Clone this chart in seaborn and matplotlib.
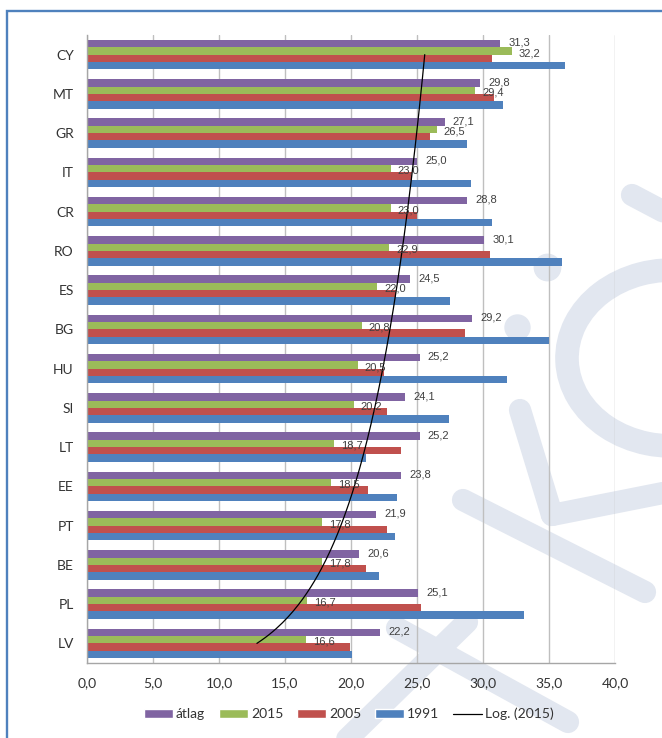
import numpy as np
import pandas as pd
import matplotlib
matplotlib.use("Agg")
import matplotlib.pyplot as plt
from matplotlib.lines import Line2D
from matplotlib.patches import Patch, Rectangle, Arc
import seaborn as sns

# --- data ---
countries = ["CY", "MT", "GR", "IT", "CR", "RO", "ES", "BG",
             "HU", "SI", "LT", "EE", "PT", "BE", "PL", "LV"]
atlag = [31.3, 29.8, 27.1, 25.0, 28.8, 30.1, 24.5, 29.2,
         25.2, 24.1, 25.2, 23.8, 21.9, 20.6, 25.1, 22.2]
y2015 = [32.2, 29.4, 26.5, 23.0, 23.0, 22.9, 22.0, 20.8,
         20.5, 20.2, 18.7, 18.5, 17.8, 17.8, 16.7, 16.6]
y2005 = [30.7, 30.8, 26.0, 24.6, 25.0, 30.5, 23.4, 28.6,
         22.5, 22.7, 23.8, 21.3, 22.7, 21.1, 25.3, 19.9]
y1991 = [36.2, 31.5, 28.8, 29.1, 30.7, 36.0, 27.5, 35.0,
         31.8, 27.4, 21.1, 23.5, 23.3, 22.1, 33.1, 20.1]
series = ["átlag", "2015", "2005", "1991"]
colors = ["#8064A2", "#9BBB59", "#C0504D", "#4F81BD"]
x_ticks = [0, 5, 10, 15, 20, 25, 30, 35, 40]

df = pd.DataFrame({
    "country": countries * 4,
    "series": np.repeat(series, len(countries)),
    "value": atlag + y2015 + y2005 + y1991,
})

sns.set_style("white")
plt.rcParams["font.family"] = ["Lato", "DejaVu Sans"]

W, H = 662, 738
fig = plt.figure(figsize=(W / 100, H / 100), dpi=100)


def fx(x):
    return x / W


def fy(y):
    return 1 - y / H


# --- faint background watermark ---
wm = "#E2E7F0"
strokes = [((463, 500), (645, 592)), ((397, 628), (568, 722)),
           ((467, 622), (338, 748)), ((520, 410), (552, 515)),
           ((552, 515), (668, 492)), ((632, 195), (668, 214))]
for (x0, y0), (x1, y1) in strokes:
    fig.add_artist(Line2D([fx(x0), fx(x1)], [fy(y0), fy(y1)],
                          transform=fig.transFigure, color=wm, lw=16,
                          solid_capstyle="round", zorder=-1))
for cx, cy, ms in [(547, 267, 19), (517, 327, 18)]:
    fig.add_artist(Line2D([fx(cx)], [fy(cy)], transform=fig.transFigure,
                          marker="o", ms=ms, color=wm, lw=0, zorder=-1))
fig.add_artist(Arc((fx(672), fy(358)), 210 / W, 176 / H, theta1=80, theta2=285,
                   transform=fig.transFigure, color=wm, lw=17, zorder=-1))

# outer blue frame
fig.add_artist(Rectangle((fx(7), -0.1), 1.2, fy(11) + 0.1, fill=False,
                         edgecolor="#4F81BD", lw=1.7,
                         transform=fig.transFigure))

ax = fig.add_axes([fx(87), fy(663), 528 / W, (663 - 35) / H])
ax.set_facecolor("none")

sns.barplot(data=df, y="country", x="value", hue="series", hue_order=series,
            order=countries, palette=colors, orient="h", width=0.75,
            saturation=1, linewidth=0, legend=False, ax=ax)


def fmt(v):
    return f"{v:.1f}".replace(".", ",")


lbl = dict(fontsize=8, color="#404040", family=["Liberation Sans", "DejaVu Sans"],
           textcoords="offset points", ha="left", va="center")
for patch, v in zip(ax.containers[0], atlag):
    ax.annotate(fmt(v), (patch.get_width(), patch.get_y() + patch.get_height() / 2),
                xytext=(5.8, 0.5), **lbl)
for patch, v in zip(ax.containers[1], y2015):
    ax.annotate(fmt(v), (patch.get_width(), patch.get_y() + patch.get_height() / 2),
                xytext=(5, -1.5), **lbl)

# logarithmic trendline of 2015 (Excel style, category 1 = bottom)
xi = np.arange(1, len(countries) + 1)
a, b = np.polyfit(np.log(xi), y2015[::-1], 1)
xs = np.linspace(1, len(countries), 200)
ax.plot(a * np.log(xs) + b, len(countries) - xs, color="black", lw=0.9)

ax.set_xlim(0, 40)
ax.set_ylim(len(countries) - 0.5, -0.5)
ax.set_xticks(x_ticks)
ax.set_xticklabels([fmt(t) for t in x_ticks])
ax.set_xlabel("")
ax.set_ylabel("")
ax.xaxis.grid(True, color="#BFBFBF", lw=1)
ax.yaxis.grid(False)
ax.set_axisbelow(True)
for s in ["top", "right"]:
    ax.spines[s].set_visible(False)
for s in ["left", "bottom"]:
    ax.spines[s].set_color("#A6A6A6")
    ax.spines[s].set_linewidth(1)

ax.tick_params(axis="x", length=4, color="#A6A6A6", pad=6,
               labelsize=10, labelcolor="#333333", direction="out")
ax.tick_params(axis="y", which="major", length=0, pad=9.5,
               labelsize=10, labelcolor="#333333")
ax.set_yticks(np.arange(-0.5, len(countries), 1), minor=True)
ax.tick_params(axis="y", which="minor", length=4, color="#A6A6A6", direction="out")

handles = [Patch(facecolor=c, label=s) for c, s in zip(colors, series)]
handles.append(Line2D([0], [0], color="black", lw=0.9, label="Log. (2015)"))
ax.legend(handles=handles, loc="center", bbox_to_anchor=(fx(349), fy(714)),
          bbox_transform=fig.transFigure, ncol=5, frameon=False, fontsize=10,
          handlelength=2.1, handleheight=0.65, handletextpad=0.2,
          columnspacing=1.0, labelcolor="#333333")

fig.savefig("out.png", dpi=100)
